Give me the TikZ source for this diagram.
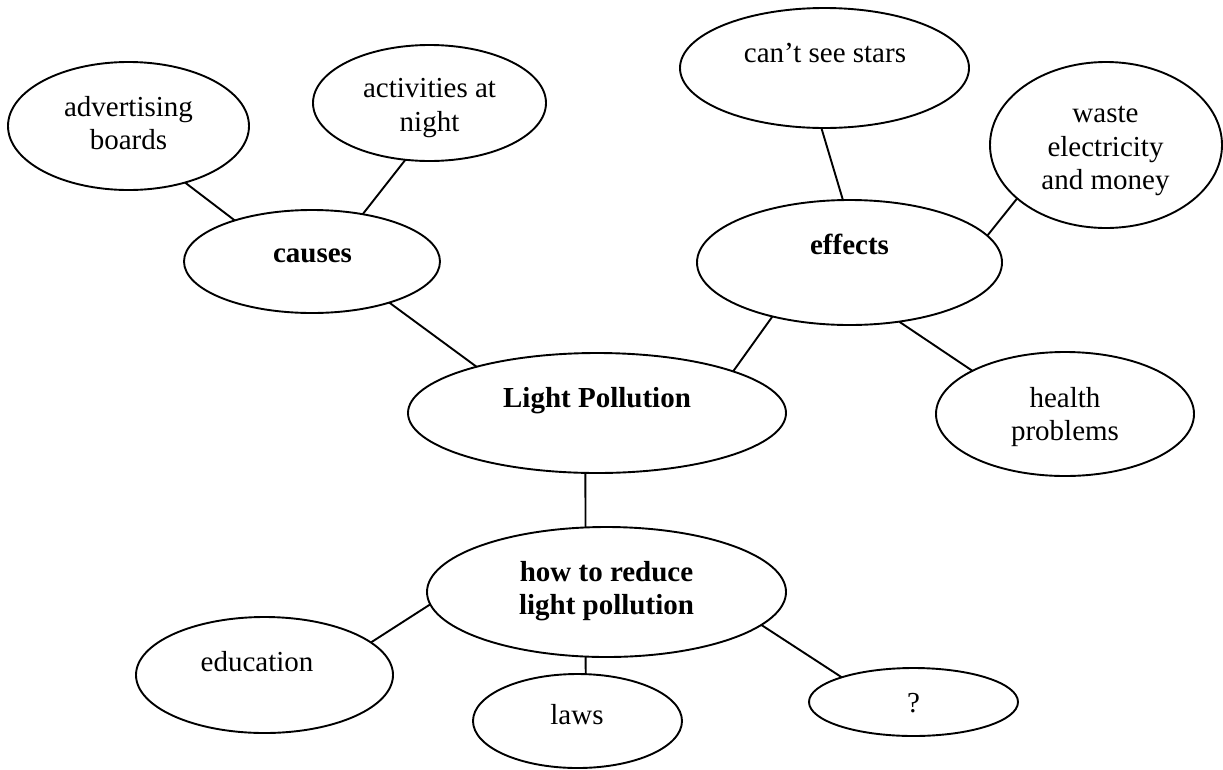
\documentclass[tikz,border=0pt]{standalone}
\usepackage{fontspec}
\setmainfont{Liberation Serif}
\usetikzlibrary{shapes.geometric}
\begin{document}
\begin{tikzpicture}[x=1pt,y=-1pt,
  bubble/.style={ellipse,draw,line width=1.9pt,inner sep=0pt,outer sep=0pt},
  txt/.style={font=\fontsize{29}{33.5}\selectfont,align=center,inner sep=0pt},
  btxt/.style={txt,font=\fontsize{29}{33.5}\selectfont\bfseries},
  link/.style={line width=1.9pt}]
\useasboundingbox (0,0) rectangle (1223,769);
% ellipses
\node[bubble,minimum width=241pt,minimum height=128pt] (adv) at (128.5,126) {};
\node[bubble,minimum width=233pt,minimum height=116pt] (act) at (429.5,103) {};
\node[bubble,minimum width=256pt,minimum height=103pt] (causes) at (312,261.5) {};
\node[bubble,minimum width=289pt,minimum height=120pt] (stars) at (824.5,68) {};
\node[bubble,minimum width=232pt,minimum height=166pt] (waste) at (1106,145) {};
\node[bubble,minimum width=305pt,minimum height=125pt] (effects) at (849.5,262.5) {};
\node[bubble,minimum width=378pt,minimum height=120pt] (lp) at (597,413) {};
\node[bubble,minimum width=258pt,minimum height=124pt] (health) at (1065,414) {};
\node[bubble,minimum width=359pt,minimum height=130pt] (how) at (606.5,592) {};
\node[bubble,minimum width=257pt,minimum height=116pt] (edu) at (264.5,675) {};
\node[bubble,minimum width=209pt,minimum height=94pt] (laws) at (577.5,721) {};
\node[bubble,minimum width=209pt,minimum height=68pt] (q) at (913.5,702) {};
% texts
\node[txt] (advt) at (128.5,126.5) {\strut advertising\\\strut boards};
\node[txt] (actt) at (429.5,108) {\strut activities at\\\strut night};
\node[btxt] (causest) at (312.5,256) {\strut causes};
\node[txt] (starst) at (825,56) {\strut can’t see stars};
\node[txt] (wastet) at (1105.5,149.5) {\strut waste\\\strut electricity\\\strut and money};
\node[btxt] (effectst) at (849.5,248) {\strut effects};
\node[btxt] (lpt) at (597,401) {\strut Light Pollution};
\node[txt] (healtht) at (1065,417.5) {\strut health\\\strut problems};
\node[btxt] (howt) at (606.5,591.5) {\strut how to reduce\\\strut light pollution};
\node[txt] (edut) at (257,665) {\strut education};
\node[txt] (lawst) at (577,718) {\strut laws};
\node[txt] (qt) at (913.5,706) {\strut ?};
% connectors
\draw[link] (adv.-45) -- (causes.152);
\draw[link] (act.-113.7) -- (causes.43.6);
\draw[link] (causes.-28) -- (lp.159.5);
\draw[link] (stars.-93.8) -- (effects.96.8);
\draw[link] (waste.-149.2) -- (effects.11.2);
\draw[link] (effects.-145.2) -- (lp.17.2);
\draw[link] (effects.-50.2) -- (health.155.9);
\draw[link] (lp.-101.33) -- (how.108.42);
\draw[link] (how.-176.5) -- (edu.17.9);
\draw[link] (how.-108.42) -- (laws.80.9);
\draw[link] (how.-12.5) -- (q.161.2);
\end{tikzpicture}
\end{document}
